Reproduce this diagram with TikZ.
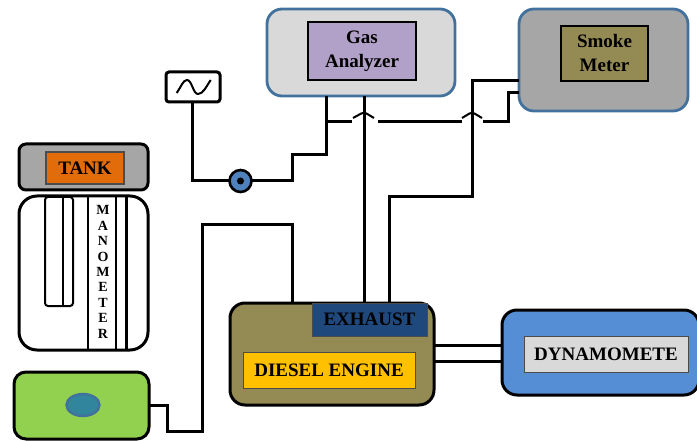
\documentclass[tikz,border=0pt]{standalone}
\usepackage{fontspec}
\setmainfont{Liberation Serif}
\usetikzlibrary{positioning, calc, shapes.geometric}

\definecolor{edgeblue}{HTML}{41719C}
\definecolor{olive}{HTML}{948A54}

\begin{document}
\begin{tikzpicture}[
    x=1pt,
    y=-1pt,
    line width=2.4pt,
    line join=miter,
    outer sep=0pt,
    unit/.style={
        rectangle,
        rounded corners=15pt,
        draw=edgeblue,
        line width=2.8pt,
        inner sep=0pt
    },
    panel/.style={
        rectangle,
        draw,
        line width=1.3pt,
        inner sep=0pt,
        align=center,
        font=\fontsize{19}{24}\selectfont\bfseries
    },
    solid box/.style={
        rectangle,
        draw,
        line width=3pt,
        rounded corners=15pt,
        inner sep=0pt
    },
    thin line/.style={
        line width=2pt
    },
    pipe/.style={
        line width=3pt
    },
    hop/.style={
        line width=2pt,
        rounded corners=3pt
    }
]

    \useasboundingbox (0,0) rectangle (697,441);

    % Gas analyzer
    \node[unit, fill={rgb,255:red,217;green,217;blue,217}, minimum width=188pt, minimum height=87pt] (gas) at (361,52.5) {};
    \node[panel, fill={rgb,255:red,177;green,160;blue,199}, minimum width=108pt, minimum height=58pt] (gaslabel) at (362,51) {Gas\\Analyzer};

    % Smoke meter
    \node[unit, fill={rgb,255:red,166;green,166;blue,166}, minimum width=169pt, minimum height=102pt] (smoke) at (603.5,60) {};
    \node[panel, fill=olive, minimum width=87pt, minimum height=55pt] (smokelabel) at (604.5,53.5) {Smoke\\Meter};

    % Power supply
    \node[solid box, fill=white, rounded corners=3pt, minimum width=54pt, minimum height=30pt] (supply) at (193,87) {};
    \draw[thin line] (176.7,93) .. controls (181,87) and (183,80) .. (187,80) .. controls (192,80) and (193,94) .. (198,94) .. controls (203,94) and (206,87) .. (210.7,80);

    % Tank
    \node[solid box, fill={rgb,255:red,166;green,166;blue,166}, rounded corners=7pt, minimum width=129pt, minimum height=46pt] (tank) at (83.5,167) {};
    \node[panel, fill={rgb,255:red,227;green,108;blue,10}, draw=black!70, minimum width=78pt, minimum height=32pt] (tanklabel) at (85,168) {TANK};

    % Manometer
    \node[solid box, fill=white, rounded corners=18pt, minimum width=129pt, minimum height=154pt] (mano) at (83.5,273) {};
    \node[rectangle, draw, fill=white, thin line, rounded corners=3pt, minimum width=28pt, minimum height=109pt, inner sep=0pt] (tube) at (59,251.5) {};
    \draw[thin line] (63,0 |- tube.north) -- (63,0 |- tube.south);
    \draw[thin line] (88,0 |- mano.north) -- (88,0 |- mano.south);
    \draw[thin line] (116,0 |- mano.north) -- (116,0 |- mano.south);
    \draw[pipe] (126,0 |- mano.north) -- (126,0 |- mano.south);
    \node[inner sep=0pt, align=center, font=\fontsize{14}{15.4}\selectfont\bfseries] (manolabel) at (103,272) {M\\A\\N\\O\\M\\E\\T\\E\\R};

    % Fuel pump
    \node[solid box, fill={rgb,255:red,146;green,208;blue,80}, rounded corners=12pt, minimum width=135pt, minimum height=67pt] (pump) at (81.5,405.5) {};
    \node[ellipse, draw=edgeblue, fill={rgb,255:red,49;green,133;blue,156}, line width=2.4pt, minimum width=33pt, minimum height=22pt, inner sep=0pt] (orifice) at (83,405) {};

    % Engine
    \node[solid box, fill=olive, minimum width=204pt, minimum height=102pt] (engine) at (332,354) {};
    \node[panel, draw=black!70, line width=1pt, fill={rgb,255:red,31;green,73;blue,125}, minimum width=115pt, minimum height=33pt] (exhaust) at (369.5,319.5) {EXHAUST};
    \node[panel, draw=black!70, line width=1pt, fill={rgb,255:red,255;green,192;blue,0}, minimum width=172pt, minimum height=36pt] (diesel) at (329,370) {DIESEL ENGINE};

    % Dynamometer
    \node[solid box, fill={rgb,255:red,85;green,142;blue,213}, minimum width=197pt, minimum height=85pt] (dyno) at (600.5,352.5) {};
    \node[panel, draw=black!70, line width=1pt, fill={rgb,255:red,217;green,217;blue,217}, minimum width=164pt, minimum height=36pt] (dynolabel) at (606,354) {DYNAMOMETE};

    % Sampling line
    \node[circle, draw, fill={rgb,255:red,79;green,129;blue,189}, line width=2.6pt, minimum size=22pt, inner sep=0pt] (valve) at (240.5,181) {};
    \node[circle, fill=black, minimum size=7pt, inner sep=0pt] (valvedot) at (valve.center) {};
    \coordinate (tee) at (326,122);
    \draw[pipe] (192,0 |- supply.south) |- (valve.west);
    \draw[pipe] (valve.east) -- (292,181) -- (292,155) -- (326,155) -- (326,0 |- gas.south);
    \draw[pipe] (tee) -- (352,122);
    \draw[pipe] (378,122) -- (462,122);
    \draw[pipe] (483,122) -- (508,122) -- (508,93) -- (smoke.west |- 0,93);

    % Exhaust lines
    \draw[pipe] (364,0 |- exhaust.north) -- (364,0 |- gas.south);
    \draw[pipe] (389,0 |- exhaust.north) -- (389,197) -- (472,197) -- (472,81) -- (smoke.west |- 0,81);

    % Line crossings
    \draw[hop] (353,118) -- (364,112) -- (374,118);
    \draw[hop] (462,118) -- (472,112) -- (482,118);

    % Fuel line
    \draw[pipe] (292,0 |- engine.north) -- (292,225) -- (202,225) -- (202,431) -- (167,431) -- (167,405) -- (pump.east |- 0,405);

    % Shaft
    \draw[pipe] (engine.east |- 0,345) -- (dyno.west |- 0,345);
    \draw[pipe] (engine.east |- 0,361) -- (dyno.west |- 0,361);

\end{tikzpicture}
\end{document}
